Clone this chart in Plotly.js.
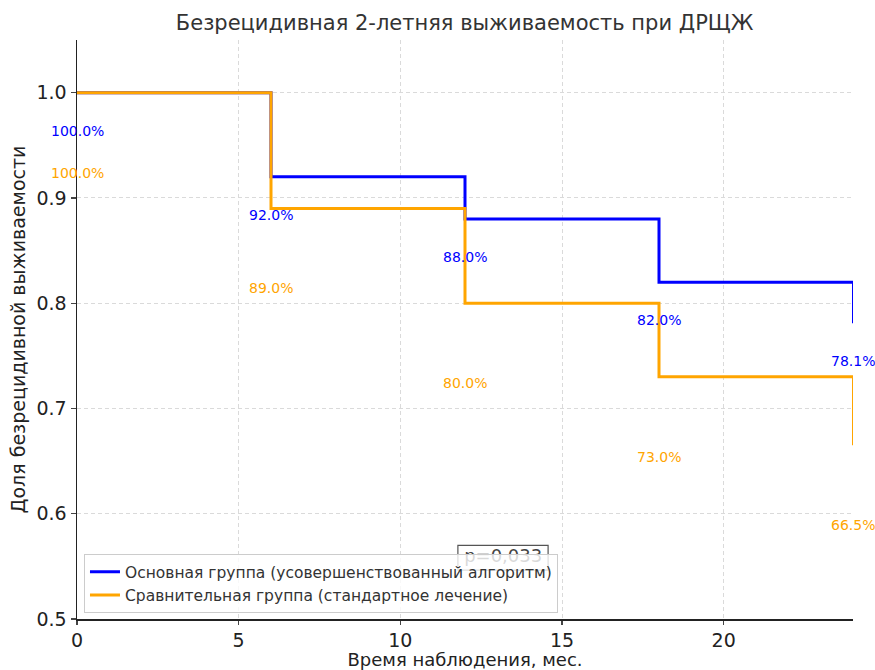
<!DOCTYPE html>
<html><head><meta charset="utf-8">
<script src="https://cdn.plot.ly/plotly-3.0.1.min.js"></script>
<style>body{margin:0;background:#fff}#chart{width:875px;height:670px}</style>
</head><body><div id="chart"></div>
<script>
const months = [0, 6, 12, 18, 24];
const mainGroup = [1.0, 0.92, 0.88, 0.82, 0.781];
const compGroup = [1.0, 0.89, 0.80, 0.73, 0.665];
const mainName = "Основная группа (усовершенствованный алгоритм)";
const compName = "Сравнительная группа (стандартное лечение)";
const pText = "p=0,033";
const blue = "#0000ff", orange = "#ffa500";
const font = "DejaVu Sans, sans-serif";

const n = months.length;
function stepTrace(vals, color, name) {
  // steps up to the last time point at full width, final drop drawn thinner
  return [
    {x: months, y: vals.slice(0, n - 1).concat([vals[n - 2]]), mode: "lines",
      line: {shape: "hv", color: color, width: 3}, name: name},
    {x: [months[n - 1], months[n - 1]], y: [vals[n - 2], vals[n - 1]], mode: "lines",
      line: {color: color, width: 2}, showlegend: false}
  ];
}
const traces = [
  ...stepTrace(mainGroup, blue, mainName),
  ...stepTrace(compGroup, orange, compName),
  {x: [13.18], y: [0.558], mode: "text", text: [pText], textfont: {family: font, size: 18, color: "#444"},
    textposition: "middle center", showlegend: false, cliponaxis: false}
];
const ann = [];
months.forEach((m, i) => {
  ann.push({x: m, y: mainGroup[i] - 0.036, text: (mainGroup[i]*100).toFixed(1) + "%", showarrow: false,
    font: {family: font, size: 14, color: blue}, xanchor: "center", yanchor: "middle"});
  ann.push({x: m, y: compGroup[i] - 0.076, text: (compGroup[i]*100).toFixed(1) + "%", showarrow: false,
    font: {family: font, size: 14, color: orange}, xanchor: "center", yanchor: "middle"});
});

const layout = {
  width: 875, height: 670,
  margin: {l: 77, r: 22, t: 40, b: 51},
  paper_bgcolor: "#fff", plot_bgcolor: "#fff",
  font: {family: font, color: "#222"},
  title: {text: "Безрецидивная 2-летняя выживаемость при ДРЩЖ", font: {family: font, size: 21, color: "#333"},
    x: 0.531, xanchor: "center", y: 0.966, yanchor: "middle"},
  xaxis: {range: [0, 24], tickvals: [0, 5, 10, 15, 20], ticks: "outside", ticklen: 4, tickwidth: 1.2,
    tickfont: {size: 19, color: "#222"}, showline: true, linecolor: "#222", linewidth: 1.5,
    showgrid: true, gridcolor: "#dadada", griddash: "4px,3px", gridwidth: 1, zeroline: false,
    title: {text: "Время наблюдения, мес.", font: {size: 18, color: "#222"}, standoff: 12}},
  yaxis: {range: [0.5, 1.05], tickvals: [0.5, 0.6, 0.7, 0.8, 0.9, 1.0], tickformat: ".1f", ticks: "outside",
    ticklen: 5, tickwidth: 1.2, tickfont: {size: 19, color: "#222"}, showline: true, linecolor: "#222",
    linewidth: 1.5, showgrid: true, gridcolor: "#dadada", griddash: "4px,3px", gridwidth: 1, zeroline: false,
    title: {text: "Доля безрецидивной выживаемости", font: {size: 19, color: "#222"}, standoff: 6}},
  legend: {x: 0.009, y: 0.01, xanchor: "left", yanchor: "bottom", bgcolor: "rgba(255,255,255,0.8)",
    bordercolor: "#ccc", borderwidth: 1, font: {size: 15.5, color: "#333"}, tracegroupgap: 0},
  shapes: [{type: "rect", xref: "x", yref: "y", x0: 11.78, x1: 14.57, y0: 0.5465, y1: 0.570,
    line: {color: "#555", width: 1.2}, fillcolor: "rgba(0,0,0,0)", layer: "above"}],
  annotations: ann,
  showlegend: true
};
Plotly.newPlot("chart", traces, layout, {displayModeBar: false, staticPlot: true});
</script></body></html>
